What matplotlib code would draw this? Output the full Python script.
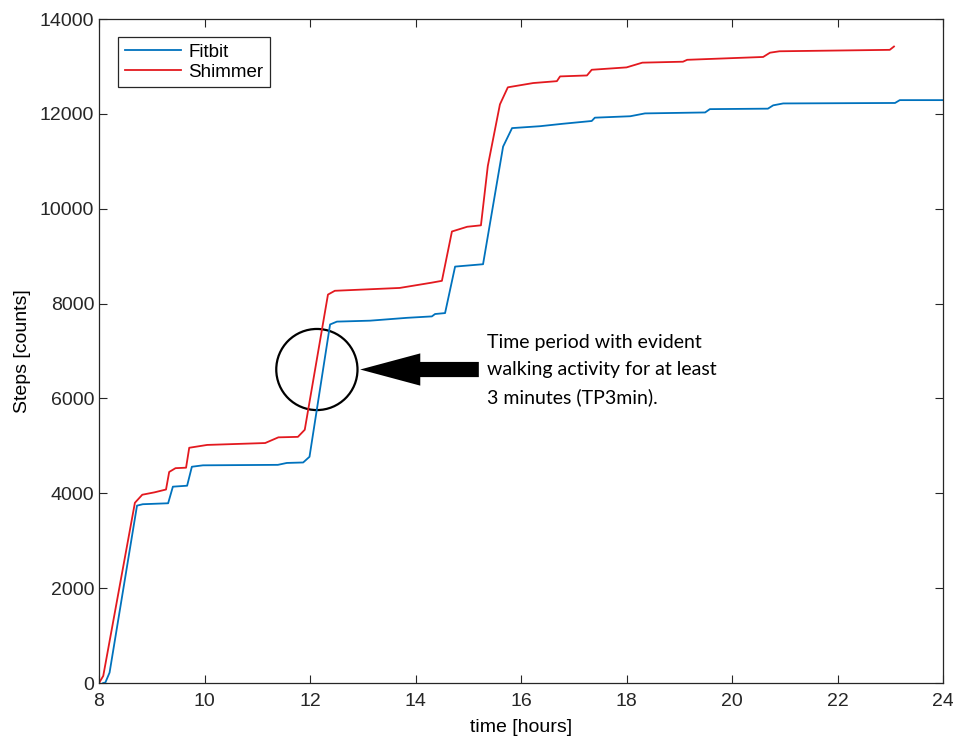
import matplotlib
matplotlib.use("Agg")
import matplotlib.pyplot as plt
from matplotlib.patches import Ellipse, FancyArrow

# (hours, cumulative steps)
fitbit_t = [8.08, 8.12, 8.20, 8.72, 8.83, 9.31, 9.40, 9.67, 9.76, 9.97, 11.39, 11.56,
            11.87, 11.99, 12.38, 12.51, 13.14, 13.84, 14.31, 14.37, 14.56, 14.75, 15.28,
            15.66, 15.83, 16.36, 16.78, 17.34, 17.40, 18.07, 18.35, 19.49, 19.58, 20.68,
            20.78, 20.97, 23.09, 23.18, 24.0]
fitbit_v = [0, 10, 220, 3740, 3770, 3790, 4140, 4160, 4560, 4590, 4600, 4640,
            4650, 4770, 7560, 7620, 7640, 7700, 7730, 7780, 7800, 8780, 8830,
            11310, 11700, 11740, 11790, 11850, 11920, 11950, 12010, 12030, 12100, 12110,
            12180, 12220, 12230, 12290, 12290]

shimmer_t = [8.00, 8.08, 8.68, 8.82, 9.05, 9.27, 9.33, 9.45, 9.65, 9.71, 10.05, 11.15,
             11.40, 11.77, 11.90, 12.34, 12.47, 13.70, 14.30, 14.50, 14.69, 14.98, 15.24,
             15.37, 15.60, 15.75, 16.23, 16.68, 16.74, 17.25, 17.34, 18.0, 18.3, 19.07,
             19.15, 20.59, 20.72, 20.90, 22.99, 23.07]
shimmer_v = [0, 150, 3800, 3970, 4020, 4080, 4450, 4530, 4540, 4960, 5020, 5060,
             5180, 5190, 5340, 8190, 8270, 8330, 8440, 8480, 9520, 9620, 9650,
             10900, 12200, 12560, 12650, 12690, 12790, 12810, 12930, 12980, 13080, 13100,
             13140, 13200, 13290, 13320, 13350, 13420]

xticks = [8, 10, 12, 14, 16, 18, 20, 22, 24]
yticks = [0, 2000, 4000, 6000, 8000, 10000, 12000, 14000]
note = "Time period with evident\nwalking activity for at least\n3 minutes (TP3min)."

plt.rcParams['font.family'] = ['Liberation Sans', 'DejaVu Sans']

fig = plt.figure(figsize=(9.54, 7.4), dpi=100)
ax = fig.add_axes([0.1038, 0.077, 0.8847, 0.8973])

ax.plot(fitbit_t, fitbit_v, color='#0072BD', lw=1.3, label='Fitbit')
ax.plot(shimmer_t, shimmer_v, color='#E3191F', lw=1.3, label='Shimmer')

ax.set_xlim(8, 24)
ax.set_ylim(0, 14000)
ax.set_xticks(xticks)
ax.set_yticks(yticks)
ax.tick_params(direction='in', top=True, right=True, length=6, width=0.8,
               labelsize=14, colors='#262626')
ax.tick_params(axis='x', pad=7)
for s in ax.spines.values():
    s.set_color('#262626')
    s.set_linewidth(0.9)
ax.set_xlabel('time [hours]', fontsize=14, labelpad=7)
ax.set_ylabel('Steps [counts]', fontsize=14, labelpad=6)

leg = ax.legend(loc='upper left', bbox_to_anchor=(0.0225, 0.973), fontsize=13.5,
                fancybox=False, edgecolor='#262626', framealpha=1,
                handlelength=3.0, borderpad=0.35, labelspacing=0.15, handletextpad=0.4,
                borderaxespad=0)
leg.get_frame().set_linewidth(0.9)

# annotation: circle, arrow, text
ax.add_patch(Ellipse((12.13, 6610), 1.54, 1710, fill=False, ec='black', lw=1.6))
ax.add_patch(FancyArrow(15.2, 6610, -2.25, 0, width=320, head_width=680,
                        head_length=1.14, length_includes_head=True,
                        color='black', lw=0))
ax.text(15.36, 6600, note, fontsize=14, va='center', ha='left',
        linespacing=1.72, family=['Lato', 'DejaVu Sans'])

fig.savefig('out.png', dpi=100)
